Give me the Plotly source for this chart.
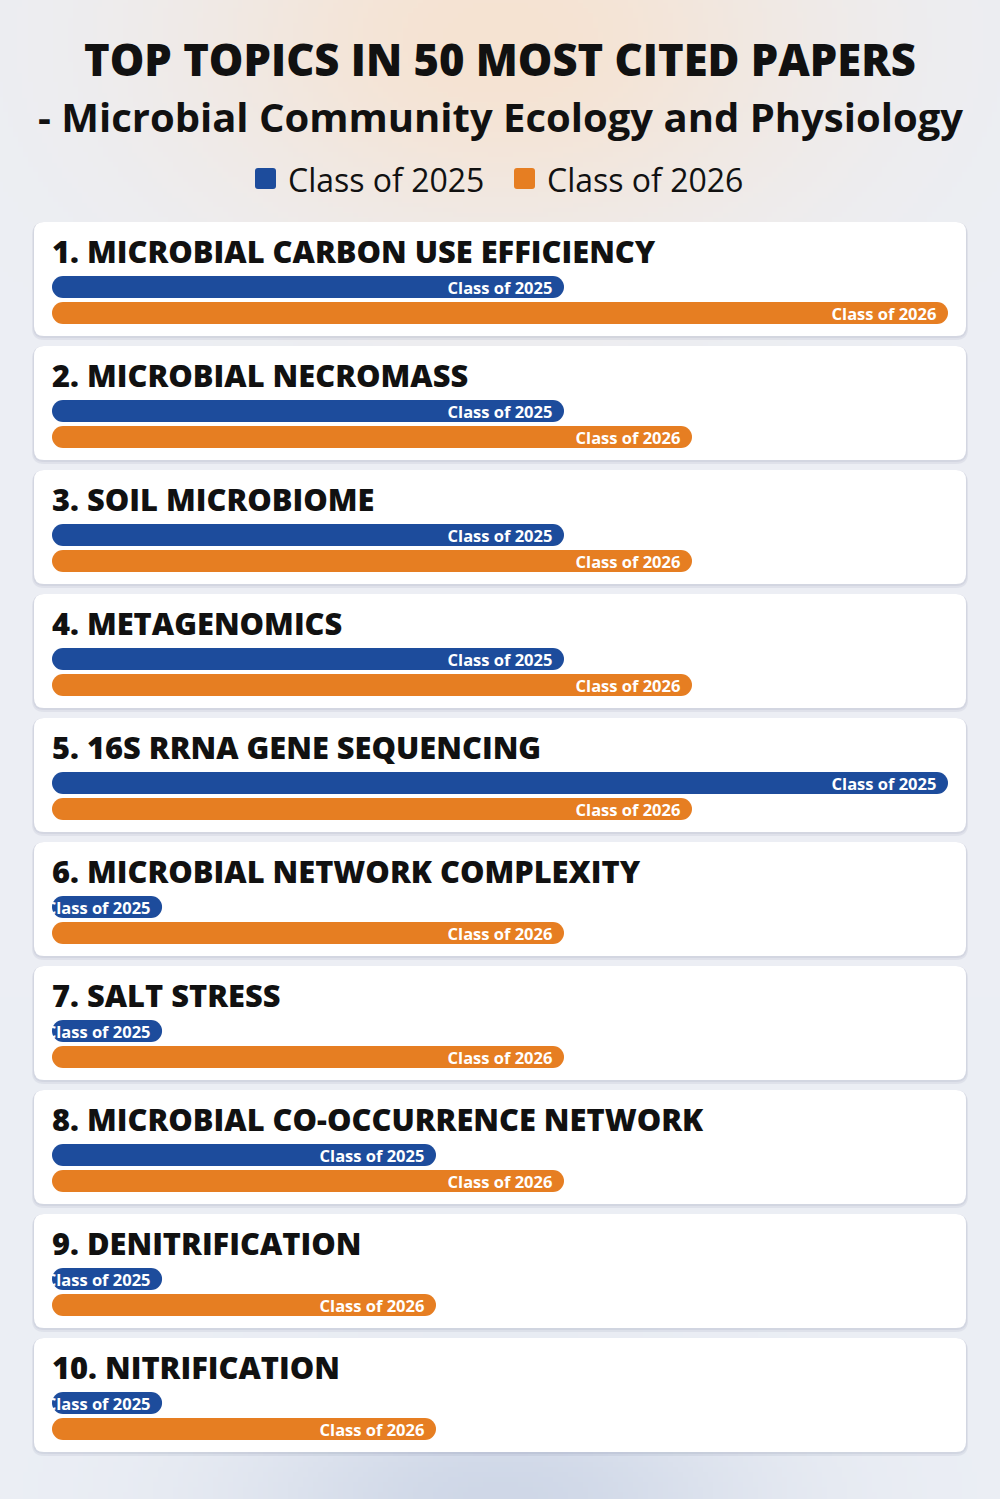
import numpy as np
import zlib, struct, base64
import plotly.graph_objects as go

# ---------------- data ----------------
topics = [
    "1. MICROBIAL CARBON USE EFFICIENCY",
    "2. MICROBIAL NECROMASS",
    "3. SOIL MICROBIOME",
    "4. METAGENOMICS",
    "5. 16S RRNA GENE SEQUENCING",
    "6. MICROBIAL NETWORK COMPLEXITY",
    "7. SALT STRESS",
    "8. MICROBIAL CO-OCCURRENCE NETWORK",
    "9. DENITRIFICATION",
    "10. NITRIFICATION",
]
class_2025 = [4, 4, 4, 4, 7, 0.86, 0.86, 3, 0.86, 0.86]
class_2026 = [7, 5, 5, 5, 5, 4, 4, 4, 3, 3]
series_names = ["Class of 2025", "Class of 2026"]
title_line1 = "TOP TOPICS IN 50 MOST CITED PAPERS"
title_line2 = "- Microbial Community Ecology and Physiology"

# ---------------- style ----------------
W, H = 1000, 1499
COLORS = ["#1d4c9c", "#e67e22"]
TXT = "#111111"
FONT = "Open Sans"

def px(x):
    return x / W

def py(y):
    return 1 - y / H

# ---------------- background gradient image ----------------
def png_data_uri(arr):
    h, w, _ = arr.shape
    raw = b"".join(b"\x00" + arr[r].tobytes() for r in range(h))
    def chunk(t, d):
        c = struct.pack(">I", len(d)) + t + d
        return c + struct.pack(">I", zlib.crc32(t + d) & 0xFFFFFFFF)
    png = (b"\x89PNG\r\n\x1a\n"
           + chunk(b"IHDR", struct.pack(">IIBBBBB", w, h, 8, 2, 0, 0, 0))
           + chunk(b"IDAT", zlib.compress(raw, 9))
           + chunk(b"IEND", b""))
    return "data:image/png;base64," + base64.b64encode(png).decode()

gw, gh = 200, 300
gx = (np.arange(gw) + 0.5) / gw * W
gy = (np.arange(gh) + 0.5) / gh * H
X, Y = np.meshgrid(gx, gy)
img = np.zeros((gh, gw, 3), dtype=float)
img[:] = np.array([236, 239, 245], dtype=float)
peach = np.exp(-(((X - 500) / 320) ** 2) - (((Y - 40) / 210) ** 2))
img = img * (1 - peach[..., None]) + np.array([246, 227, 210]) * peach[..., None]
blue = np.exp(-(((X - 500) / 260) ** 2) - (((Y - 1499) / 110) ** 2))
img = img * (1 - 0.9 * blue[..., None]) + np.array([204, 213, 230]) * 0.9 * blue[..., None]
img = np.clip(img, 0, 255).astype(np.uint8)
bg_uri = png_data_uri(img)

# ---------------- figure ----------------
fig = go.Figure()
layout_axes = {}
shapes = []
annotations = []

def rrect_path(x0, y0, x1, y1, r):
    rx, ry = r / W, r / H
    X0, X1, Y0, Y1 = px(x0), px(x1), py(y0), py(y1)
    return (f"M{X0+rx},{Y0} L{X1-rx},{Y0} Q{X1},{Y0} {X1},{Y0-ry} "
            f"L{X1},{Y1+ry} Q{X1},{Y1} {X1-rx},{Y1} L{X0+rx},{Y1} "
            f"Q{X0},{Y1} {X0},{Y1+ry} L{X0},{Y0-ry} Q{X0},{Y0} {X0+rx},{Y0} Z")

xmax = max(max(class_2025), max(class_2026))
CARD_TOP0, CARD_STEP, CARD_H = 222, 124, 114
NBSP = "\u00a0"

for i, topic in enumerate(topics):
    top = CARD_TOP0 + CARD_STEP * i
    # card shadow + card
    shapes.append(dict(type="path", path=rrect_path(32, top + 1, 968, top + CARD_H + 4, 12),
                       xref="paper", yref="paper", fillcolor="rgba(110,120,150,0.10)",
                       line=dict(width=0), layer="below"))
    shapes.append(dict(type="path", path=rrect_path(33, top, 967, top + CARD_H + 2, 11),
                       xref="paper", yref="paper", fillcolor="rgba(110,120,150,0.10)",
                       line=dict(width=0), layer="below"))
    shapes.append(dict(type="path", path=rrect_path(34, top, 966, top + CARD_H, 10),
                       xref="paper", yref="paper", fillcolor="#ffffff",
                       line=dict(width=0), layer="below"))
    annotations.append(dict(text=topic, x=px(50), y=py(top + 29), xref="paper", yref="paper",
                            xanchor="left", yanchor="middle", showarrow=False,
                            font=dict(family=FONT, size=30.8, color=TXT, weight=800)))
    n = "" if i == 0 else str(i + 1)
    xa, ya = "x" + n, "y" + n
    layout_axes["xaxis" + n] = dict(domain=[px(52), px(948)], range=[0, xmax], visible=False,
                                    fixedrange=True, anchor=ya)
    layout_axes["yaxis" + n] = dict(domain=[py(top + 104), py(top + 52)], range=[1.5, -0.5],
                                    visible=False, fixedrange=True, anchor=xa)
    for j, vals in enumerate([class_2025, class_2026]):
        v = vals[i]
        common = dict(y=[j], x=[v], base=[0], orientation="h", width=0.846, xaxis=xa, yaxis=ya,
                      showlegend=False, hoverinfo="skip", cliponaxis=True)
        # pill-shaped bar
        fig.add_trace(go.Bar(marker=dict(color=COLORS[j], cornerradius="50%", line=dict(width=0)),
                             **common))
        # label carrier (transparent, same extent)
        fig.add_trace(go.Bar(marker=dict(color="rgba(0,0,0,0)", line=dict(width=0)),
                             text=[series_names[j] + NBSP * 2], textposition="inside",
                             insidetextanchor="end", textangle=0, constraintext="none",
                             insidetextfont=dict(family=FONT, size=16.5, color="white", weight=700),
                             **common))

# main title
annotations.append(dict(text=title_line1, x=0.5, y=py(60), xref="paper", yref="paper",
                        xanchor="center", yanchor="middle", showarrow=False,
                        font=dict(family=FONT, size=43.5, color=TXT, weight=800)))
annotations.append(dict(text=title_line2, x=0.5, y=py(116), xref="paper", yref="paper",
                        xanchor="center", yanchor="middle", showarrow=False,
                        font=dict(family=FONT, size=40, color=TXT, weight=700)))

# legend
leg_items = [(255, series_names[0], COLORS[0]), (514, series_names[1], COLORS[1])]
for x0, name, col in leg_items:
    shapes.append(dict(type="path", path=rrect_path(x0, 168, x0 + 21, 189, 3),
                       xref="paper", yref="paper", fillcolor=col, line=dict(width=0)))
    annotations.append(dict(text=name, x=px(x0 + 31), y=py(179), xref="paper", yref="paper",
                            xanchor="left", yanchor="middle", showarrow=False,
                            font=dict(family=FONT, size=32, color=TXT, weight=500)))

fig.update_layout(
    width=W, height=H,
    margin=dict(l=0, r=0, t=0, b=0),
    paper_bgcolor="#eceff5",
    plot_bgcolor="rgba(0,0,0,0)",
    barmode="overlay",
    showlegend=False,
    shapes=shapes,
    annotations=annotations,
    images=[dict(source=bg_uri, xref="paper", yref="paper", x=0, y=1, sizex=1, sizey=1,
                 xanchor="left", yanchor="top", sizing="stretch", layer="below")],
    **layout_axes,
)

fig.write_html("out.html")
